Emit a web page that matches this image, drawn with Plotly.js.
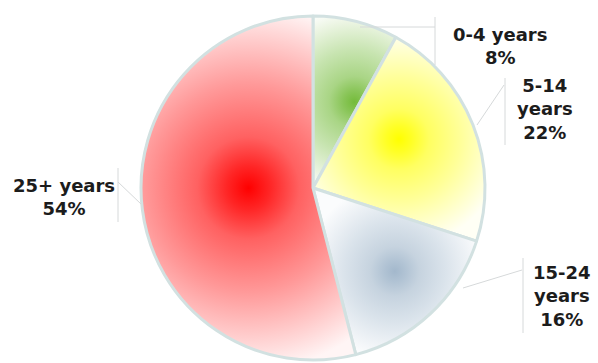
<!DOCTYPE html>
<html>
<head>
<meta charset="utf-8">
<script src="https://cdn.plot.ly/plotly-3.0.1.min.js"></script>
<style>html,body{margin:0;padding:0;background:#fff;}#chart{width:598px;height:363px;}</style>
</head>
<body>
<div id="chart"></div>
<script>
// ---- data ----
const labels = ['0-4 years', '5-14 years', '15-24 years', '25+ years'];
const labelLines = ['0-4 years', '5-14<br>years', '15-24<br>years', '25+ years'];
const values = [8, 22, 16, 54];
const sliceColors = ['#74bb3a', '#ffff00', '#a3b8cc', '#ff0000'];

// ---- layout helpers (pixels -> paper) ----
const W = 598, H = 363;
const px = x => x / W;
const py = y => 1 - y / H;

const cx = 313, cy = 188, R = 172;

const labelPos = [[500, 46], [545, 109], [562, 296], [64, 197]];
const leaderLines = [
  [[360, 27], [435, 27], [435, 17], [435, 65]],
  [[477, 125], [504, 85], [505, 78], [505, 145]],
  [[463, 288], [522, 270], [523, 258], [523, 333]],
  [[141, 204], [118, 182], [118, 168], [118, 222]]
];

const total = values.reduce((a, b) => a + b, 0);

const trace = {
  type: 'pie',
  labels: labels,
  values: values,
  sort: false,
  direction: 'clockwise',
  rotation: 0,
  textinfo: 'none',
  hoverinfo: 'label+percent',
  marker: { colors: sliceColors, line: { color: '#d2e1e1', width: 3 } },
  domain: { x: [px(cx - R), px(cx + R)], y: [py(cy + R), py(cy - R)] },
  showlegend: false
};

const annotations = labelLines.map((t, i) => ({
  xref: 'paper', yref: 'paper',
  x: px(labelPos[i][0]), y: py(labelPos[i][1]),
  xanchor: 'center', yanchor: 'middle',
  text: t + '<br>' + Math.round(values[i] / total * 100) + '%',
  showarrow: false,
  font: { family: 'DejaVu Sans, Verdana, sans-serif', size: 18, color: '#1c1c1c', weight: 'bold' },
  align: 'center'
}));

const shapes = [];
leaderLines.forEach(l => {
  shapes.push({ type: 'line', xref: 'paper', yref: 'paper', x0: px(l[0][0]), y0: py(l[0][1]), x1: px(l[1][0]), y1: py(l[1][1]), line: { color: '#d6d9da', width: 1 } });
  shapes.push({ type: 'line', xref: 'paper', yref: 'paper', x0: px(l[2][0]), y0: py(l[2][1]), x1: px(l[3][0]), y1: py(l[3][1]), line: { color: '#d6d9da', width: 1 } });
});

const layout = {
  width: W, height: H,
  margin: { l: 0, r: 0, t: 0, b: 0 },
  paper_bgcolor: '#ffffff',
  annotations: annotations,
  shapes: shapes
};

function mix(hex, t) {
  const n = parseInt(hex.slice(1), 16);
  const r = (n >> 16) & 255, g = (n >> 8) & 255, b = n & 255;
  const f = v => Math.round(v + (255 - v) * t);
  return 'rgb(' + f(r) + ',' + f(g) + ',' + f(b) + ')';
}

Plotly.newPlot('chart', [trace], layout, { displayModeBar: false, staticPlot: true }).then(gd => {
  const svg = gd.querySelector('svg.main-svg');
  const NS = 'http://www.w3.org/2000/svg';
  let defs = svg.querySelector('defs');
  if (!defs) { defs = document.createElementNS(NS, 'defs'); svg.insertBefore(defs, svg.firstChild); }
  gd.querySelectorAll('g.slice path.surface').forEach((p, i) => {
    const c = sliceColors[i];
    const bb = p.getBBox();
    const g = document.createElementNS(NS, 'radialGradient');
    g.setAttribute('id', 'sliceGrad' + i);
    g.setAttribute('gradientUnits', 'userSpaceOnUse');
    g.setAttribute('cx', bb.x + bb.width / 2);
    g.setAttribute('cy', bb.y + bb.height / 2);
    g.setAttribute('r', 0.53 * Math.max(bb.width, bb.height));
    [[0, 0], [0.12, 0.15], [0.28, 0.38], [0.57, 0.6], [0.88, 0.86], [1, 0.96]].forEach(s => {
      const st = document.createElementNS(NS, 'stop');
      st.setAttribute('offset', s[0]);
      st.setAttribute('stop-color', mix(c, s[1]));
      g.appendChild(st);
    });
    defs.appendChild(g);
    p.style.fill = 'url(#sliceGrad' + i + ')';
    p.style.fillOpacity = 1;
  });
});
</script>
</body>
</html>
